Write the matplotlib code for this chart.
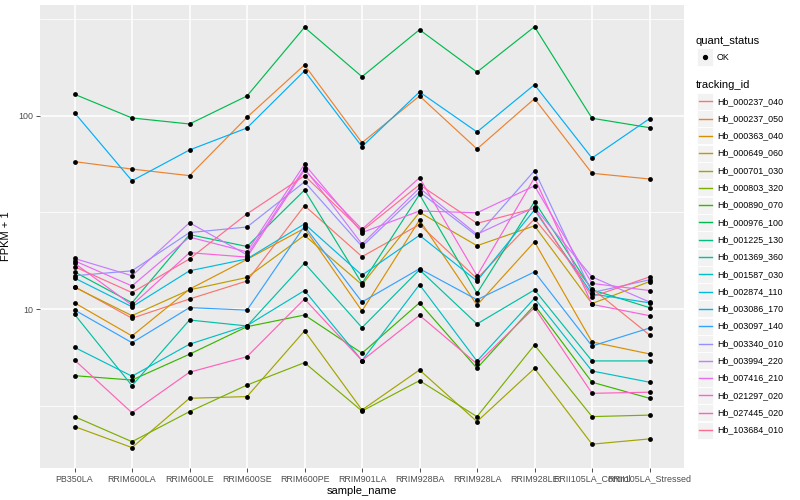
import numpy as np
import matplotlib
matplotlib.use("Agg")
import matplotlib.pyplot as plt
from matplotlib.lines import Line2D
from matplotlib.patches import Rectangle

plt.rcParams["font.family"] = ["Liberation Sans", "DejaVu Sans"]

sample_names = ["PB350LA", "RRIM600LA", "RRIM600LE", "RRIM600SE", "RRIM600PE",
                "RRIM901LA", "RRIM928BA", "RRIM928LA", "RRIM928LE",
                "RRII105LA_Control", "RRII105LA_Stressed"]

tracking_ids = ["Hb_000237_040", "Hb_000237_050", "Hb_000363_040", "Hb_000649_060",
                "Hb_000701_030", "Hb_000803_320", "Hb_000890_070", "Hb_000976_100",
                "Hb_001225_130", "Hb_001369_360", "Hb_001587_030", "Hb_002874_110",
                "Hb_003086_170", "Hb_003097_140", "Hb_003340_010", "Hb_003994_220",
                "Hb_007416_210", "Hb_021297_020", "Hb_027445_020", "Hb_103684_010"]

# FPKM + 1, one list per gene, in sample order
hb_000237_040 = [13.1, 8.99, 11.3, 14.0, 34.3, 18.7, 27.4, 14.4, 29.3, 12.8, 7.37]
hb_000237_050 = [57.9, 53.0, 49.0, 98.1, 182.8, 72.5, 126.4, 67.3, 122.4, 50.4, 47.1]
hb_000363_040 = [10.8, 7.28, 12.7, 18.1, 26.2, 9.8, 28.9, 10.5, 22.3, 6.78, 5.88]
hb_000649_060 = [13.0, 9.27, 12.6, 14.6, 24.1, 13.4, 31.7, 21.3, 27.0, 10.7, 13.9]
hb_000701_030 = [2.48, 1.93, 3.47, 3.54, 7.73, 3.02, 4.86, 2.63, 4.95, 2.01, 2.14]
hb_000803_320 = [2.79, 2.07, 2.96, 4.06, 5.30, 2.98, 4.28, 2.79, 6.54, 2.79, 2.84]
hb_000890_070 = [4.54, 4.31, 5.86, 8.13, 9.34, 5.93, 10.8, 4.96, 10.5, 4.20, 3.47]
hb_000976_100 = [129, 97.3, 90.6, 126.4, 286, 159, 278, 168, 288, 97, 86.7]
hb_001225_130 = [15.6, 10.8, 24.3, 21.1, 41.3, 13.6, 39.2, 12.1, 36.0, 12.6, 10.2]
hb_001369_360 = [9.42, 4.03, 8.80, 8.20, 17.3, 8.04, 16.0, 8.40, 12.6, 5.41, 5.41]
hb_001587_030 = [6.36, 4.51, 6.60, 8.23, 12.5, 5.43, 13.4, 5.40, 11.4, 4.80, 4.20]
hb_002874_110 = [14.5, 10.3, 15.8, 18.2, 27.6, 15.0, 24.1, 14.0, 32.6, 12.0, 10.8]
hb_003086_170 = [103.6, 46.1, 66.5, 86.4, 170.2, 69.2, 132.6, 82.4, 144.6, 60.4, 96.5]
hb_003097_140 = [9.92, 6.72, 10.2, 9.9, 26.9, 10.9, 16.2, 11.2, 15.6, 6.46, 8.0]
hb_003340_010 = [14.9, 15.8, 24.9, 26.6, 45.5, 21.1, 40.4, 23.9, 52.0, 12.2, 14.2]
hb_003994_220 = [18.3, 14.9, 28.0, 19.1, 53.5, 21.7, 42.3, 24.4, 33.6, 14.7, 10.9]
hb_007416_210 = [17.8, 13.2, 23.6, 19.8, 56.1, 24.9, 32.2, 31.5, 43.4, 13.6, 12.5]
hb_021297_020 = [17.3, 10.5, 19.6, 18.6, 52.4, 25.9, 47.8, 14.9, 47.8, 10.6, 9.27]
hb_027445_020 = [5.47, 2.92, 4.73, 5.69, 11.3, 5.43, 9.31, 5.22, 10.2, 3.68, 3.73]
hb_103684_010 = [16.6, 12.2, 18.2, 31.1, 49.0, 25.4, 44.0, 27.8, 33.2, 11.6, 14.7]

# ggplot2 default hue palette for 20 levels
colors = ["#F8766D", "#EA8331", "#D89000", "#C09B00", "#A3A500", "#7CAE00", "#39B600",
          "#00BB4E", "#00BF7D", "#00C1A3", "#00BFC4", "#00BAE0", "#00B0F6", "#35A2FF",
          "#9590FF", "#C77CFF", "#E76BF3", "#FA62DB", "#FF62BC", "#FF6C91"]


def main():
    series = [hb_000237_040, hb_000237_050, hb_000363_040, hb_000649_060, hb_000701_030,
              hb_000803_320, hb_000890_070, hb_000976_100, hb_001225_130, hb_001369_360,
              hb_001587_030, hb_002874_110, hb_003086_170, hb_003097_140, hb_003340_010,
              hb_003994_220, hb_007416_210, hb_021297_020, hb_027445_020, hb_103684_010]

    fig = plt.figure(figsize=(8, 5), dpi=100)
    ax = fig.add_axes([40 / 800, 1 - 468 / 500, 644 / 800, 463 / 500])
    ax.set_facecolor("#EBEBEB")

    x = np.arange(len(sample_names))
    for vals, col in zip(series, colors):
        ax.plot(x, vals, color=col, lw=0.85, zorder=3)
    for vals in series:
        ax.scatter(x, vals, s=12, color="black", zorder=4, linewidths=0)

    ax.set_yscale("log")
    ax.set_ylim(1.514, 373)
    ax.set_xlim(-0.6, 10.6)
    ax.set_yticks([10, 100])
    ax.set_yticklabels(["10", "100"])
    ax.set_yticks([10 ** 0.5, 10 ** 1.5, 10 ** 2.5], minor=True)
    ax.yaxis.set_minor_formatter(plt.NullFormatter())
    ax.set_xticks(x)
    ax.set_xticklabels(sample_names)

    ax.grid(True, which="major", color="white", lw=1.1, zorder=0)
    ax.grid(True, which="minor", axis="y", color="white", lw=0.55, zorder=0)
    ax.set_axisbelow(True)
    for sp in ax.spines.values():
        sp.set_visible(False)
    ax.tick_params(which="major", length=2.8, width=0.6, color="#333333",
                   labelsize=6.4, labelcolor="#4D4D4D", pad=2)
    ax.tick_params(which="minor", length=0)

    ax.set_xlabel("sample_name", fontsize=8, labelpad=2)
    ax.set_ylabel("FPKM + 1", fontsize=8, labelpad=5)

    # legends, ggplot style
    def key_box(yc):
        fig.patches.append(Rectangle((697 / 800, 1 - (yc + 8.5) / 500), 16 / 800, 17 / 500,
                                     transform=fig.transFigure, facecolor="#F2F2F2",
                                     edgecolor="white", lw=0.6))

    fig.text(696 / 800, 1 - 41 / 500, "quant_status", fontsize=8, va="center", ha="left")
    key_box(57)
    fig.lines.append(Line2D([705 / 800], [1 - 57 / 500], marker="o", ms=2.8, color="black",
                            lw=0, transform=fig.transFigure))
    fig.text(717 / 800, 1 - 57 / 500, "OK", fontsize=6.4, va="center", ha="left")

    fig.text(696 / 800, 1 - 85 / 500, "tracking_id", fontsize=8, va="center", ha="left")
    for i, (name, col) in enumerate(zip(tracking_ids, colors)):
        yc = 101.3 + i * 17.3
        key_box(yc)
        fig.lines.append(Line2D([698.5 / 800, 711.5 / 800], [1 - yc / 500, 1 - yc / 500],
                                color=col, lw=1.0, transform=fig.transFigure))
        fig.text(717 / 800, 1 - yc / 500, name, fontsize=6.4, va="center", ha="left")

    fig.savefig("out.png", dpi=100)
    plt.close(fig)


if __name__ == "__main__":
    main()
